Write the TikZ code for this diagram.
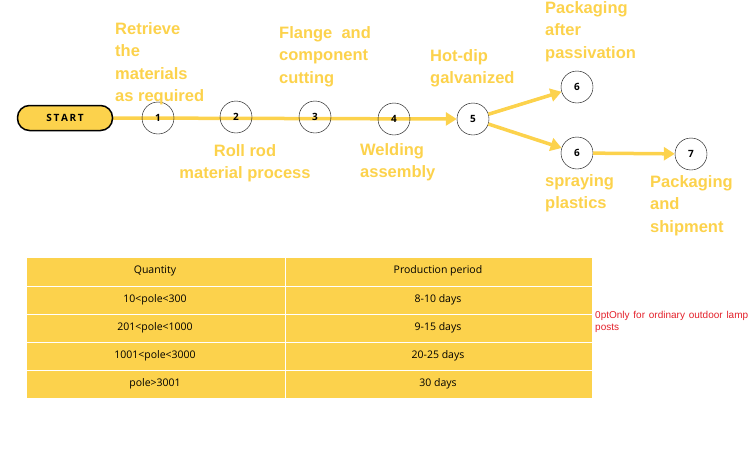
\documentclass[tikz,border=0pt]{standalone}
\usepackage{fontspec}
\setmainfont{Liberation Sans}
\newfontfamily\tabfont{Open Sans}
\usetikzlibrary{arrows.meta,backgrounds}
\definecolor{lampyellow}{HTML}{FCD24C}
\definecolor{lampred}{HTML}{E3202A}
\tikzset{
    stepcircle/.style = {draw = black, circle, minimum size = 32pt, inner sep = 0pt, font = \tabfont\bfseries\fontsize{10}{10}\selectfont},
    flow/.style = {lampyellow, line width = 3.5pt, -{Triangle[length = 11pt, width = 13pt]}},
    steplabel/.style = {text = lampyellow, font = \bfseries\fontsize{16.5}{22.5}\selectfont, align = left, inner sep = 0pt},
    cellfill/.style = {fill = lampyellow, draw = white, line width = 1pt}
}
\newcommand\drawRow[2]{
    \draw[cellfill] (26,#1) rectangle (285,#2);
    \draw[cellfill] (285,#1) rectangle (592,#2);
}
\begin{document}
\begin{tikzpicture}[x = 1pt, y = -1pt]
        \useasboundingbox (0,0) rectangle (750,450);
        % process chain
        \node[draw, line width = 1.5pt, fill = lampyellow, rounded corners = 12pt, minimum width = 95pt, minimum height = 25pt, font = \tabfont\bfseries\fontsize{10}{10}\selectfont] (start) at (65,118) {S\,T\,A\,R\,T};
        \node[stepcircle] (s1) at (158,118) {1};
        \node[stepcircle] (s2) at (236,117) {2};
        \node[stepcircle] (s3) at (315,117) {3};
        \node[stepcircle] (s4) at (394,119) {4};
        \node[stepcircle] (s5) at (473,119) {5};
        \node[stepcircle] (s6a) at (577,87) {6};
        \node[stepcircle] (s6b) at (577,153) {6};
        \node[stepcircle] (s7) at (691,154) {7};
        \begin{scope}[on background layer]
            \draw[flow] (start.east) -- (s5.west);
        \end{scope}
        \draw[flow] (s5) -- (s6a);
        \draw[flow] (s5) -- (s6b);
        \draw[flow] (s6b) -- (s7);
        % labels
        \node[steplabel, anchor = north west] (l1) at (115,22) {Retrieve\\the\\materials\\as required};
        \node[steplabel, anchor = north west] (l3) at (279,26) {Flange~~and\\component\\cutting};
        \node[steplabel, anchor = north, align = center] (l2) at (245,144) {Roll rod\\material process};
        \node[steplabel, anchor = north west] (l4) at (360,143) {Welding\\assembly};
        \node[steplabel, anchor = north west] (l5) at (430,49) {Hot-dip\\galvanized};
        \node[steplabel, anchor = north west] (l6a) at (545,1) {Packaging\\after\\passivation};
        \node[steplabel, anchor = north west] (l6b) at (545,174) {spraying\\plastics};
        \node[steplabel, anchor = north west] (l7) at (650,175) {Packaging\\and\\shipment};
        % table
        \drawRow{257}{286}
        \drawRow{286}{314}
        \drawRow{314}{342}
        \drawRow{342}{370}
        \drawRow{370}{398}
        \begin{scope}[font = \tabfont\fontsize{10.5}{10.5}\selectfont]
            \node (q0) at (155,271) {Quantity};
            \node (p0) at (438,271) {Production period};
            \node (q1) at (155,300) {10<pole<300};
            \node (p1) at (438,300) {8-10 days};
            \node (q2) at (155,328) {201<pole<1000};
            \node (p2) at (438,328) {9-15 days};
            \node (q3) at (155,356) {1001<pole<3000};
            \node (p3) at (438,356) {20-25 days};
            \node (q4) at (155,384) {pole>3001};
            \node (p4) at (438,384) {30 days};
        \end{scope}
        \node[anchor = north west, inner sep = 0pt, text width = 153pt, align = justify, text = lampred, font = \hyphenpenalty=10000\bfseries\fontsize{15}{21}\selectfont] (note) at (595,311) {Only for ordinary outdoor lamp posts};
    \end{tikzpicture}
\end{document}
